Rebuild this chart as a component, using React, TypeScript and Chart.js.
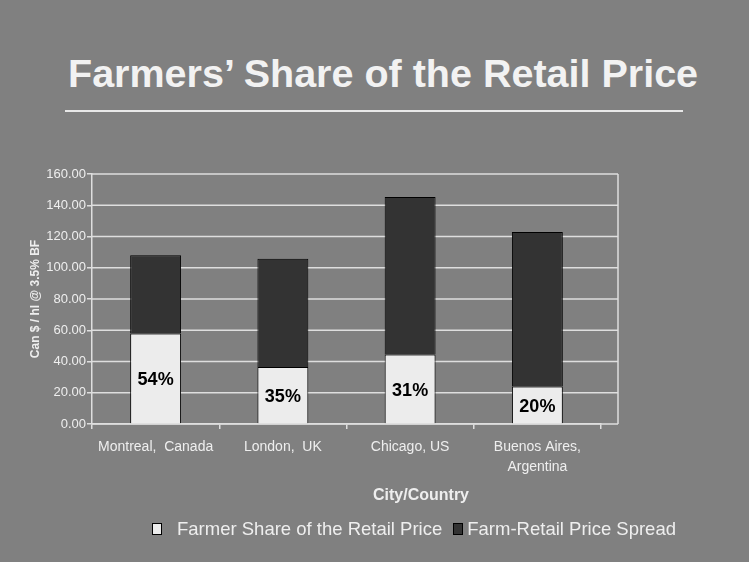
import { useEffect, useRef } from 'react';
import { Chart, registerables } from 'chart.js';

Chart.register(...registerables);

const categories: (string | string[])[] = [
  'Montreal,  Canada',
  'London,  UK',
  'Chicago, US',
  ['Buenos Aires,', 'Argentina'],
];
const farmerShare = [58.0, 36.5, 44.5, 24.0];
const priceSpread = [50.0, 69.3, 100.8, 98.9];
const shareLabels = ['54%', '35%', '31%', '20%'];
const seriesNames = ['Farmer Share of the Retail Price', 'Farm-Retail Price Spread'];
const seriesColors = ['#ececec', '#333333'];
const Y_MIN = 0;
const Y_MAX = 160;
const Y_STEP = 20;

const TITLE = 'Farmers\u2019 Share of the Retail Price';
const X_TITLE = 'City/Country';
const Y_TITLE = 'Can $ / hl @ 3.5% BF';

const FONT = '"Liberation Sans", Arial, Helvetica, sans-serif';
const TEXT = '#eeeeee';
const GRID = '#dedede';
const BG = '#808080';
const EXT = 17;

const frameExtPlugin = {
  id: 'frameExt',
  beforeDatasetsDraw(chart: any) {
    const { ctx, chartArea, scales } = chart;
    const y = scales.y;
    const right = chartArea.right + EXT;
    ctx.save();
    ctx.strokeStyle = GRID;
    ctx.lineWidth = 1.5;
    y.ticks.forEach((t: any) => {
      const py = y.getPixelForValue(t.value);
      ctx.beginPath();
      ctx.moveTo(chartArea.left, py);
      ctx.lineTo(right, py);
      ctx.stroke();
    });
    ctx.beginPath();
    ctx.moveTo(right, y.getPixelForValue(Y_MAX));
    ctx.lineTo(right, y.getPixelForValue(Y_MIN));
    ctx.stroke();
    ctx.restore();
  },
};

const shareLabelPlugin = {
  id: 'shareLabels',
  afterDatasetsDraw(chart: any) {
    const { ctx } = chart;
    const meta = chart.getDatasetMeta(0);
    ctx.save();
    ctx.font = `bold 18px ${FONT}`;
    ctx.fillStyle = '#000000';
    ctx.textAlign = 'center';
    ctx.textBaseline = 'middle';
    meta.data.forEach((el: any, i: number) => {
      const cy = (el.y + el.base) / 2;
      ctx.fillText(shareLabels[i], el.x, cy + 2);
    });
    ctx.restore();
  },
};

export default function App() {
  const canvasRef = useRef<HTMLCanvasElement | null>(null);

  useEffect(() => {
    document.body.style.margin = '0';
    const canvas = canvasRef.current;
    if (!canvas) return;
    const chart = new Chart(canvas, {
      type: 'bar',
      data: {
        labels: categories as any,
        datasets: [
          {
            label: seriesNames[0],
            data: farmerShare,
            backgroundColor: seriesColors[0],
            borderColor: '#000000',
            borderWidth: 1,
            categoryPercentage: 1,
            barPercentage: 0.4,
          },
          {
            label: seriesNames[1],
            data: priceSpread,
            backgroundColor: seriesColors[1],
            borderColor: '#000000',
            borderWidth: 1,
            categoryPercentage: 1,
            barPercentage: 0.4,
          },
        ],
      },
      options: {
        responsive: false,
        animation: false,
        layout: { padding: { left: 28, right: 148, top: 174, bottom: 68 } },
        plugins: {
          legend: { display: false },
          tooltip: { enabled: false },
        },
        scales: {
          x: {
            stacked: true,
            afterFit: (s: any) => { s.height = 70; },
            grid: {
              display: true,
              drawOnChartArea: false,
              drawTicks: true,
              tickLength: 5,
              color: GRID,
              lineWidth: 1.5,
              offset: true,
            },
            border: { display: true, color: GRID, width: 1.5 },
            ticks: {
              color: TEXT,
              padding: 8,
              maxRotation: 0,
              autoSkip: false,
              font: { family: FONT, size: 14, lineHeight: 1.43 },
            },
          },
          y: {
            stacked: true,
            min: Y_MIN,
            max: Y_MAX,
            afterFit: (s: any) => { s.width = 64; },
            grid: {
              display: true,
              drawOnChartArea: false,
              drawTicks: true,
              tickLength: 5,
              color: GRID,
              lineWidth: 1.5,
            },
            border: { display: true, color: GRID, width: 1.5 },
            ticks: {
              stepSize: Y_STEP,
              color: TEXT,
              padding: 1,
              font: { family: FONT, size: 13 },
              callback: (v: any) => Number(v).toFixed(2),
            },
            title: {
              display: true,
              text: Y_TITLE,
              color: TEXT,
              padding: 0,
              font: { family: FONT, size: 12, weight: 'bold' },
            },
          },
        },
      },
      plugins: [frameExtPlugin, shareLabelPlugin],
    });
    return () => chart.destroy();
  }, []);

  return (
    <div
      style={{
        position: 'relative',
        width: 749,
        height: 562,
        background: BG,
        overflow: 'hidden',
        fontFamily: FONT,
      }}
    >
      <div
        style={{
          position: 'absolute',
          left: 68,
          top: 54,
          fontSize: 39.5,
          lineHeight: '39px',
          fontWeight: 'bold',
          color: '#f2f2f2',
          whiteSpace: 'nowrap',
        }}
      >
        {TITLE}
      </div>
      <div
        style={{
          position: 'absolute',
          left: 65,
          top: 110,
          width: 618,
          height: 2,
          background: '#e8e8e8',
        }}
      />
      <canvas
        ref={canvasRef}
        width={749}
        height={562}
        style={{ position: 'absolute', left: 0, top: 0, width: 749, height: 562 }}
      />
      <div
        style={{
          position: 'absolute',
          left: 373,
          top: 486,
          fontSize: 16,
          lineHeight: '18px',
          fontWeight: 'bold',
          color: TEXT,
          whiteSpace: 'nowrap',
        }}
      >
        {X_TITLE}
      </div>
      <div
        style={{
          position: 'absolute',
          left: 152,
          top: 518,
          height: 22,
          display: 'flex',
          alignItems: 'center',
          whiteSpace: 'nowrap',
          color: TEXT,
          fontSize: 18.5,
        }}
      >
        {seriesNames.map((name, i) => (
          <div key={name} style={{ display: 'flex', alignItems: 'center', marginRight: 11 }}>
            <div
              style={{
                width: 8,
                height: 10,
                border: '1px solid #000',
                background: seriesColors[i],
                marginRight: i === 0 ? 15 : 4,
              }}
            />
            <span>{name}</span>
          </div>
        ))}
      </div>
    </div>
  );
}
